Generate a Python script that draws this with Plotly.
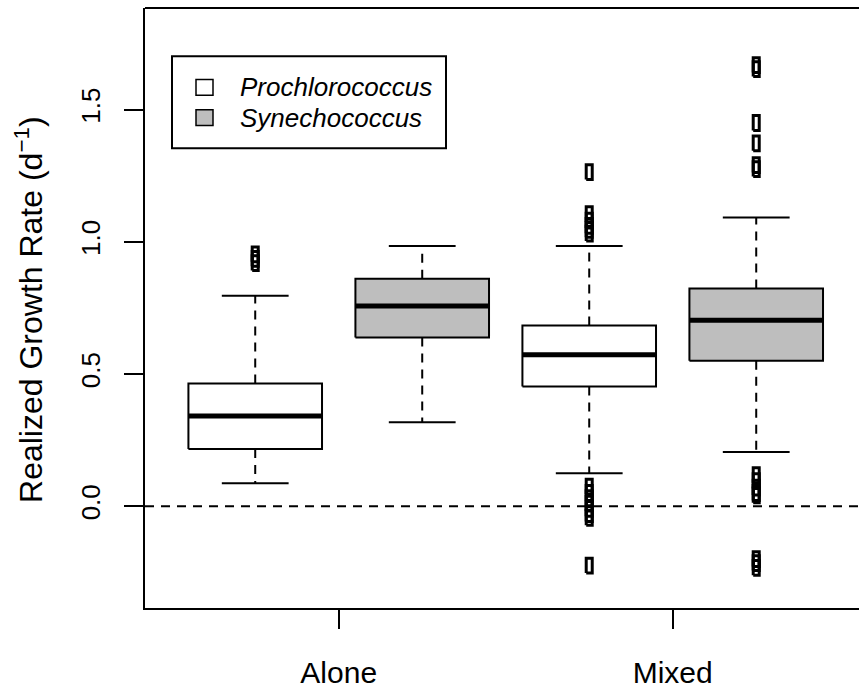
import plotly.graph_objects as go

# ---- data ----
positions = [1, 2, 3, 4]
species = ["Prochlorococcus", "Synechococcus", "Prochlorococcus", "Synechococcus"]
group_ticks = [1.5, 3.5]
group_labels = ["Alone", "Mixed"]
q1 = [0.216, 0.638, 0.453, 0.550]
median = [0.341, 0.757, 0.573, 0.703]
q3 = [0.464, 0.860, 0.683, 0.823]
whisker_lo = [0.087, 0.317, 0.125, 0.205]
whisker_hi = [0.796, 0.984, 0.984, 1.092]
outliers = [
    [0.952, 0.935, 0.919],
    [],
    [1.263, 1.104, 1.080, 1.060, 1.045, 1.031, 0.074, 0.050, 0.030, 0.010,
     -0.010, -0.030, -0.044, -0.225],
    [1.668, 1.653, 1.449, 1.372, 1.290, 1.275, 0.117, 0.095, 0.070, 0.050,
     0.041, -0.200, -0.215, -0.233],
]
fills = {"Prochlorococcus": "white", "Synechococcus": "#BEBEBE"}
y_ticks = [0.0, 0.5, 1.0, 1.5]
y_ticklabels = ["0.0", "0.5", "1.0", "1.5"]

# ---- geometry / style ----
W, H = 859, 689
ML, MR, MT, MB = 145, 0, 8, 73
XR = [0.34, 0.34 + (W - ML - MR) / 167.0]
YR = [-0.385, 1.884]
BOX_HW = 0.4
CAP_HW = 0.2
PT_HW = 0.018
PT_HH = 0.028
FONT = "Liberation Sans, Arial, sans-serif"

fig = go.Figure()

for i, p in enumerate(positions):
    fill = fills[species[i]]
    # whiskers (dashed)
    fig.add_trace(go.Scatter(
        x=[p, p, None, p, p], y=[q3[i], whisker_hi[i], None, q1[i], whisker_lo[i]],
        mode="lines", line=dict(color="black", width=2, dash="9px,7px"),
        showlegend=False, hoverinfo="skip"))
    # staples
    fig.add_trace(go.Scatter(
        x=[p - CAP_HW, p + CAP_HW, None, p - CAP_HW, p + CAP_HW],
        y=[whisker_hi[i], whisker_hi[i], None, whisker_lo[i], whisker_lo[i]],
        mode="lines", line=dict(color="black", width=2),
        showlegend=False, hoverinfo="skip"))
    # box
    fig.add_trace(go.Scatter(
        x=[p - BOX_HW, p + BOX_HW, p + BOX_HW, p - BOX_HW, p - BOX_HW],
        y=[q1[i], q1[i], q3[i], q3[i], q1[i]],
        mode="lines", fill="toself", fillcolor=fill,
        line=dict(color="black", width=2),
        showlegend=False, hoverinfo="skip"))
    # median
    fig.add_trace(go.Scatter(
        x=[p - BOX_HW, p + BOX_HW], y=[median[i], median[i]],
        mode="lines", line=dict(color="black", width=5),
        showlegend=False, hoverinfo="skip"))
    # outliers as open (tall) squares
    xs, ys = [], []
    for v in outliers[i]:
        xs += [p - PT_HW, p + PT_HW, p + PT_HW, p - PT_HW, p - PT_HW, None]
        ys += [v - PT_HH, v - PT_HH, v + PT_HH, v + PT_HH, v - PT_HH, None]
    if xs:
        fig.add_trace(go.Scatter(
            x=xs, y=ys, mode="lines", line=dict(color="black", width=3),
            showlegend=False, hoverinfo="skip"))


def px_x(px):
    return (px - ML) / (W - ML - MR)


def px_y(py):
    return (H - MB - py) / (H - MB - MT)


shapes = [
    # zero line
    dict(type="line", xref="paper", yref="y", x0=0, x1=1, y0=0, y1=0,
         line=dict(color="black", width=2, dash="9px,7px")),
    # top frame
    dict(type="line", xref="paper", yref="paper", x0=0, x1=1, y0=1, y1=1,
         line=dict(color="black", width=2)),
    # legend box
    dict(type="rect", xref="paper", yref="paper",
         x0=px_x(172), x1=px_x(446), y0=px_y(150), y1=px_y(57),
         line=dict(color="black", width=2), fillcolor="white"),
]
annotations = []
legend_rows_y = [88.5, 119]
for sp, yc in zip(["Prochlorococcus", "Synechococcus"], legend_rows_y):
    shapes.append(dict(type="rect", xref="paper", yref="paper",
                       x0=px_x(196), x1=px_x(213), y0=px_y(yc + 8), y1=px_y(yc - 8),
                       line=dict(color="black", width=1.5), fillcolor=fills[sp]))
    annotations.append(dict(text=sp, xref="paper", yref="paper",
                            x=px_x(238), y=px_y(yc), xanchor="left", yanchor="middle",
                            showarrow=False,
                            font=dict(family=FONT, size=26, color="black", style="italic")))

annotations.append(dict(text="Realized Growth Rate (d<sup>−1</sup>)",
                        xref="paper", yref="paper", x=px_x(29), y=px_y(314),
                        xanchor="center", yanchor="middle", textangle=-90,
                        showarrow=False,
                        font=dict(family=FONT, size=32, color="black")))

fig.update_layout(
    width=W, height=H,
    margin=dict(l=ML, r=MR, t=MT, b=MB),
    paper_bgcolor="white", plot_bgcolor="white",
    showlegend=False,
    shapes=shapes, annotations=annotations,
    xaxis=dict(range=XR, showgrid=False, zeroline=False,
               showline=True, linecolor="black", linewidth=2,
               tickmode="array", tickvals=group_ticks, ticktext=group_labels,
               ticks="outside", ticklen=19, tickwidth=2, tickcolor="black",
               ticklabelstandoff=18,
               tickfont=dict(family=FONT, size=30, color="black")),
    yaxis=dict(range=YR, showgrid=False, zeroline=False,
               showline=True, linecolor="black", linewidth=2,
               tickmode="array", tickvals=y_ticks, ticktext=y_ticklabels,
               ticks="outside", ticklen=19, tickwidth=2, tickcolor="black",
               tickangle=-90, ticklabelstandoff=14,
               tickfont=dict(family=FONT, size=26, color="black")),
)

fig.write_html("out.html")
